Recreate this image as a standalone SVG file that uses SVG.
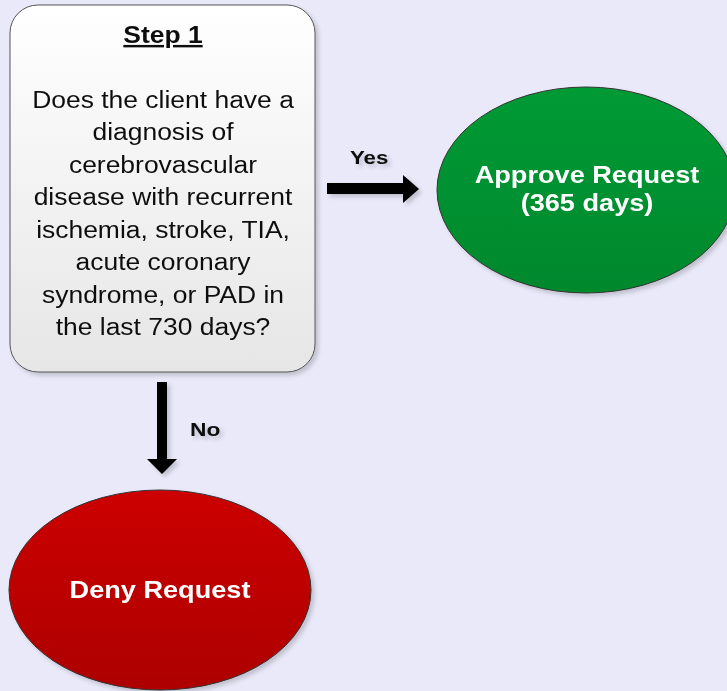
<svg xmlns="http://www.w3.org/2000/svg" width="727" height="691" viewBox="0 0 727 691">
<style>
.t{font-family:"Liberation Sans",Arial,sans-serif;text-anchor:middle}
.body{font-size:24.5px;fill:#111}
.b{font-weight:bold}
.w{fill:#fff;font-size:23px;font-weight:bold}
.lbl{font-size:19px;font-weight:bold;fill:#111;font-family:"Liberation Sans",Arial,sans-serif}
</style>
<defs>
<linearGradient id="gBox" x1="0" y1="0" x2="0" y2="1"><stop offset="0" stop-color="#ffffff"/><stop offset="1" stop-color="#e6e6e6"/></linearGradient>
<linearGradient id="gGreen" x1="0" y1="0" x2="0" y2="1"><stop offset="0" stop-color="#009a35"/><stop offset="1" stop-color="#00882c"/></linearGradient>
<linearGradient id="gRed" x1="0" y1="0" x2="0" y2="1"><stop offset="0" stop-color="#cc0000"/><stop offset="1" stop-color="#ad0000"/></linearGradient>
<filter id="sh" x="-10%" y="-10%" width="130%" height="130%"><feDropShadow dx="3" dy="3" stdDeviation="2" flood-color="#000" flood-opacity="0.18"/></filter>
</defs>
<rect width="727" height="691" fill="#e9e9fa"/>
<g id="step1" filter="url(#sh)">
<rect x="10" y="5" width="305" height="367" rx="28" fill="url(#gBox)" stroke="#555" stroke-width="1"/>
<g transform="translate(163 0) scale(1.08 1)">
<text class="t body b" x="0" y="43" text-decoration="underline">Step 1</text>
<text class="t body" x="0" y="108">Does the client have a</text>
<text class="t body" x="0" y="140.5">diagnosis of</text>
<text class="t body" x="0" y="173">cerebrovascular</text>
<text class="t body" x="0" y="205.5">disease with recurrent</text>
<text class="t body" x="0" y="238">ischemia, stroke, TIA,</text>
<text class="t body" x="0" y="270.5">acute coronary</text>
<text class="t body" x="0" y="303">syndrome, or PAD in</text>
<text class="t body" x="0" y="335.5">the last 730 days?</text>
</g>
</g>
<g id="approve" filter="url(#sh)">
<ellipse cx="586" cy="190" rx="149" ry="103" fill="url(#gGreen)" stroke="#333" stroke-width="1"/>
<g transform="translate(587 0) scale(1.18 1)">
<text class="t w" x="0" y="183">Approve Request</text>
<text class="t w" x="0" y="211">(365 days)</text>
</g>
</g>
<g id="deny" filter="url(#sh)">
<ellipse cx="160" cy="590" rx="151" ry="100" fill="url(#gRed)" stroke="#333" stroke-width="1"/>
<g transform="translate(160 0) scale(1.18 1)">
<text class="t w" x="0" y="598">Deny Request</text>
</g>
</g>
<g id="connectors" filter="url(#sh)">
<polygon points="327,183 403,183 403,175 419,189 403,203 403,194 327,194" fill="#000"/>
<text class="lbl" x="350" y="164" transform="translate(350 0) scale(1.17 1) translate(-350 0)">Yes</text>
<polygon points="157,382 167,382 167,459 177,459 162,474 147,459 157,459" fill="#000"/>
<text class="lbl" x="190" y="436" transform="translate(190 0) scale(1.2 1) translate(-190 0)">No</text>
</g>
</svg>
